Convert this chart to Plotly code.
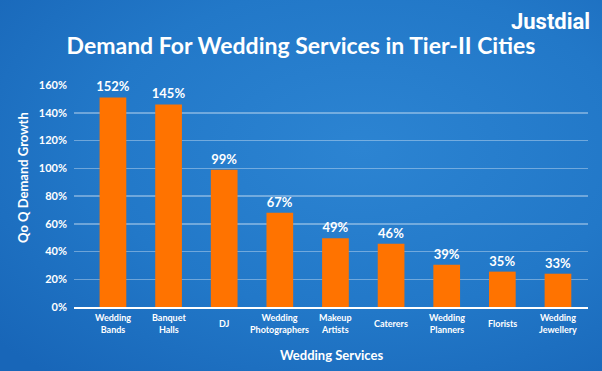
import base64
import plotly.graph_objects as go

categories = ["Wedding Bands", "Banquet Halls", "DJ", "Wedding Photographers", "Makeup Artists",
              "Caterers", "Wedding Planners", "Florists", "Wedding Jewellery"]
tick_labels = ["Wedding<br>Bands", "Banquet<br>Halls", "DJ", "Wedding<br>Photographers", "Makeup<br>Artists",
               "Caterers", "Wedding<br>Planners", "Florists", "Wedding<br>Jewellery"]
bar_heights = [151, 146, 99, 68, 49.5, 45.5, 30.5, 25.5, 24]
value_labels = ["152%", "145%", "99%", "67%", "49%", "46%", "39%", "35%", "33%"]
y_ticks = [0, 20, 40, 60, 80, 100, 120, 140, 160]

FONT = "Lato"

svg = """<svg xmlns='http://www.w3.org/2000/svg' width='602' height='371'>
<defs><radialGradient id='g' cx='0.6' cy='0.4' r='0.8'>
<stop offset='0' stop-color='#2c84d2'/><stop offset='0.55' stop-color='#2278c8'/><stop offset='1' stop-color='#1866b8'/>
</radialGradient></defs><rect width='602' height='371' fill='url(#g)'/></svg>"""
bg_uri = "data:image/svg+xml;base64," + base64.b64encode(svg.encode()).decode()

fig = go.Figure()
fig.add_trace(go.Bar(
    x=categories, y=bar_heights, width=0.48,
    marker=dict(color="#ff7300", line=dict(width=0)),
    text=value_labels, textposition="outside", cliponaxis=False, constraintext="none",
    textfont=dict(family=FONT, size=13, color="white", weight="bold"),
    hoverinfo="skip",
))

for cat, lab in zip(categories, tick_labels):
    fig.add_annotation(x=cat, xref="x", y=-0.075, yref="paper", text=lab, showarrow=False,
                       yanchor="middle", xanchor="center",
                       font=dict(family=FONT, size=9, color="white", weight="bold"))

fig.add_annotation(x=0.5, xref="paper", y=-0.216, yref="paper", text="Wedding Services", showarrow=False,
                   xanchor="center", yanchor="middle",
                   font=dict(family=FONT, size=13, color="white", weight="bold"))

fig.add_annotation(x=-51/514, xref="paper", y=(307 - 178) / 222, yref="paper", text="Qo Q Demand Growth",
                   showarrow=False, textangle=-90, xanchor="center", yanchor="middle",
                   font=dict(family=FONT, size=13, color="white", weight="bold"))

fig.add_annotation(x=1.008, xref="paper", y=1.35, yref="paper", text="Justdial", showarrow=False,
                   xanchor="right", yanchor="top",
                   font=dict(family="Roboto", size=22, color="white", weight="bold"))

fig.update_layout(
    width=602, height=371,
    margin=dict(l=74, r=14, t=85, b=64, autoexpand=False),
    paper_bgcolor="#2278c8", plot_bgcolor="rgba(0,0,0,0)",
    images=[dict(source=bg_uri, xref="paper", yref="paper", x=-74/514, y=1+85/222,
                 sizex=602/514, sizey=371/222, xanchor="left", yanchor="top",
                 sizing="stretch", layer="below")],
    title=dict(text="Demand For Wedding Services in Tier-II Cities", x=0.5, xanchor="center",
               y=0.875, yanchor="middle", yref="container",
               font=dict(family=FONT, size=23, color="white", weight="bold")),
    showlegend=False,
    bargap=0.5,
)
fig.update_xaxes(type="category", range=[-0.7, 8.54], showticklabels=False, showgrid=False,
                 showline=True, linecolor="white", linewidth=2, ticks="", zeroline=False)
fig.update_yaxes(range=[0, 160], tickvals=y_ticks, ticktext=[f"{v}%" for v in y_ticks],
                 showgrid=True, gridcolor="rgba(255,255,255,0.35)", gridwidth=1.5, zeroline=False,
                 ticks="", ticklabelstandoff=6,
                 tickfont=dict(family=FONT, size=11, color="white", weight="bold"))

fig.write_html("out.html", config={"displayModeBar": False, "staticPlot": True},
               post_script="document.body.style.margin='0';document.body.style.padding='0';")
